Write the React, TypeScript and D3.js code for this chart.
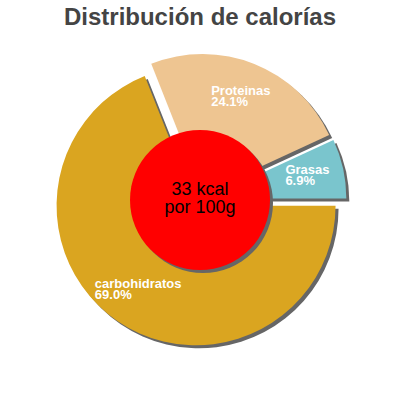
import React, { useMemo } from "react";
import * as d3 from "d3";

const title = "Distribución de calorías";
const categories = ["carbohidratos", "Proteinas", "Grasas"];
const percents = [69.0, 24.1, 6.9];
const colors = ["#DAA520", "#EEC591", "#7AC5CD"];
const centerLines = ["33 kcal", "por 100g"];

const W = 400;
const H = 400;
const CX = 200;
const CY = 200;
const R = 139.5;
const EXPLODE = 7;
const LABEL_R = 110;
const SHADOW = 3;
const LABEL_FONT = "bold 13px 'Liberation Sans', Arial, sans-serif";

function measure(text: string, font: string): number {
  const c = document.createElement("canvas");
  const ctx = c.getContext("2d");
  if (!ctx) return text.length * 7;
  ctx.font = font;
  return ctx.measureText(text).width;
}

export default function App() {
  const arcs = useMemo(() => {
    const pie = d3
      .pie<number>()
      .sort(null)
      .startAngle(Math.PI / 2)
      .endAngle(Math.PI / 2 + 2 * Math.PI)
      .value((d) => d);
    return pie(percents);
  }, []);

  const arcGen = d3.arc<d3.PieArcDatum<number>>().innerRadius(0).outerRadius(R);

  const items = arcs.map((a, i) => {
    const mid = (a.startAngle + a.endAngle) / 2;
    const dx = Math.sin(mid);
    const dy = -Math.cos(mid);
    const pct = percents[i].toFixed(1) + "%";
    const w = Math.max(measure(categories[i], LABEL_FONT), measure(pct, LABEL_FONT));
    return {
      path: arcGen(a) || "",
      ox: dx * EXPLODE,
      oy: dy * EXPLODE,
      lx: CX + dx * LABEL_R - w / 2,
      ly: CY + dy * LABEL_R,
      name: categories[i],
      pct,
      color: colors[i],
    };
  });

  return (
    <svg
      width={W}
      height={H}
      style={{ position: "absolute", left: 0, top: 0, background: "#fff" }}
      fontFamily="'Liberation Sans', Arial, sans-serif"
    >
      <text x={W / 2} y={25} textAnchor="middle" fontSize={24} fontWeight="bold" fill="#444">
        {title}
      </text>
      <g>
        {items.map((it, i) => (
          <path
            key={"s" + i}
            d={it.path}
            transform={`translate(${CX + it.ox + SHADOW},${CY + it.oy + SHADOW})`}
            fill="#666"
          />
        ))}
        {items.map((it, i) => (
          <path
            key={"p" + i}
            d={it.path}
            transform={`translate(${CX + it.ox},${CY + it.oy})`}
            fill={it.color}
          />
        ))}
      </g>
      <circle cx={CX + SHADOW} cy={CY + SHADOW} r={70} fill="#666" />
      <circle cx={CX} cy={CY} r={70} fill="#FF0000" />
      <text x={CX} y={CY - 5} textAnchor="middle" fontSize={18} fill="#000">
        {centerLines[0]}
      </text>
      <text x={CX} y={CY + 13} textAnchor="middle" fontSize={18} fill="#000">
        {centerLines[1]}
      </text>
      {items.map((it, i) => (
        <g key={"l" + i} fill="#fff" fontSize={13} fontWeight="bold">
          <text x={it.lx} y={it.ly - 2.5}>
            {it.name}
          </text>
          <text x={it.lx} y={it.ly + 8.5}>
            {it.pct}
          </text>
        </g>
      ))}
    </svg>
  );
}
